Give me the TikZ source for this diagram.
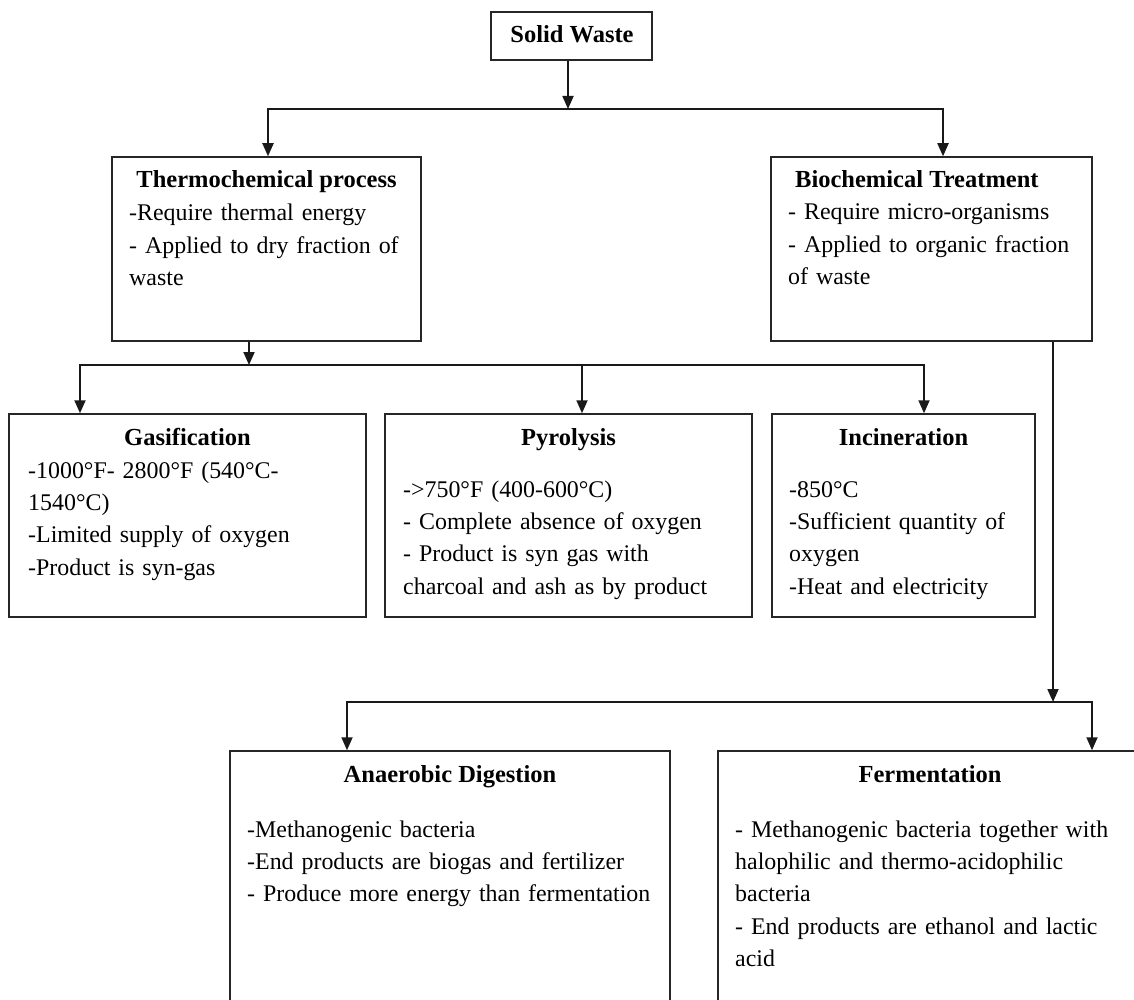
\documentclass[tikz,border=0pt]{standalone}
\usepackage{fontspec}
\setmainfont{Liberation Serif}
\usetikzlibrary{arrows.meta}
\begin{document}
\begin{tikzpicture}[x=1pt,y=-1pt,
  box/.style={draw=black!85, line width=1.5pt, rectangle, inner sep=0pt},
  arr/.style={draw=black!90, line width=1.8pt, -{Triangle[length=13pt,width=11pt]}},
  ttl/.style={font=\fontsize{24.5}{32.4}\selectfont\bfseries, inner sep=0pt, anchor=base},
  body/.style={font=\fontsize{23.9}{32.4}\selectfont, inner sep=0pt, anchor=base west, align=left}
]
\clip (0,0) rectangle (1134,1000);
\fill[white] (0,0) rectangle (1134,1000);

% boxes
\node[box, minimum width=161pt, minimum height=48pt]  (sw)     at (571.5,36)    {};
\node[box, minimum width=309pt, minimum height=184pt] (thermo) at (266.5,249)   {};
\node[box, minimum width=321pt, minimum height=184pt] (bio)    at (931.5,249)   {};
\node[box, minimum width=357pt, minimum height=203pt] (gas)    at (187.5,515.5) {};
\node[box, minimum width=367pt, minimum height=203pt] (pyro)   at (568.5,515.5) {};
\node[box, minimum width=263pt, minimum height=203pt] (inc)    at (903.5,515.5) {};
\node[box, minimum width=440pt, minimum height=299pt] (ana)    at (450,900.5)   {};
\node[box, minimum width=424pt, minimum height=299pt] (fer)    at (930,900.5)   {};

% texts
\node[ttl] (sw-t) at (572,43) {Solid Waste};

\node[ttl] (thermo-h) at (266.5,188) {Thermochemical process};
\node[body, text width=285pt] (thermo-b) at (129,221)
  {-Require thermal energy\\- Applied to dry fraction of\\waste};

\node[ttl, anchor=base west] (bio-h) at (795,188) {Biochemical Treatment};
\node[body, text width=295pt] (bio-b) at (788,220)
  {- Require micro-organisms\\- Applied to organic fraction\\of waste};

\node[ttl] (gas-h) at (187.5,445) {Gasification};
\node[body, text width=330pt] (gas-b) at (28,478)
  {-1000°F- 2800°F (540°C-\\1540°C)\\-Limited supply of oxygen\\-Product is syn-gas};

\node[ttl] (pyro-h) at (568.5,445) {Pyrolysis};
\node[body, text width=340pt] (pyro-b) at (403,497)
  {->750°F (400-600°C)\\- Complete absence of oxygen\\- Product is syn gas with\\charcoal and ash as by product};

\node[ttl] (inc-h) at (903.5,445) {Incineration};
\node[body, text width=238pt] (inc-b) at (789,497)
  {-850°C\\-Sufficient quantity of\\oxygen\\-Heat and electricity};

\node[ttl] (ana-h) at (450,782) {Anaerobic Digestion};
\node[body, text width=415pt] (ana-b) at (247,837)
  {-Methanogenic bacteria\\-End products are biogas and fertilizer\\- Produce more energy than fermentation};

\node[ttl] (fer-h) at (930,782) {Fermentation};
\node[body, text width=395pt] (fer-b) at (735,837)
  {- Methanogenic bacteria together with\\halophilic and thermo-acidophilic\\bacteria\\- End products are ethanol and lactic\\acid};

% junctions
\coordinate (j1) at (568,109);
\coordinate (j2) at (249,365);
\coordinate (j3) at (1053,702);

% connectors
\draw[arr] (sw.south -| j1) -- (j1);
\draw[arr] (j1) -| ([xshift=1.5pt]thermo.north);
\draw[arr] (j1) -| ([xshift=11.5pt]bio.north);

\draw[arr] (thermo.south -| j2) -- (j2);
\draw[arr] (j2) -| ([xshift=-107.5pt]gas.north);
\draw[arr] (j2) -| ([xshift=13.5pt]pyro.north);
\draw[arr] (j2) -| ([xshift=20.5pt]inc.north);

\draw[arr] (bio.south -| j3) -- (j3);
\draw[arr] (j3) -| ([xshift=-103pt]ana.north);
\draw[arr] (j3) -| ([xshift=162pt]fer.north);
\end{tikzpicture}
\end{document}
